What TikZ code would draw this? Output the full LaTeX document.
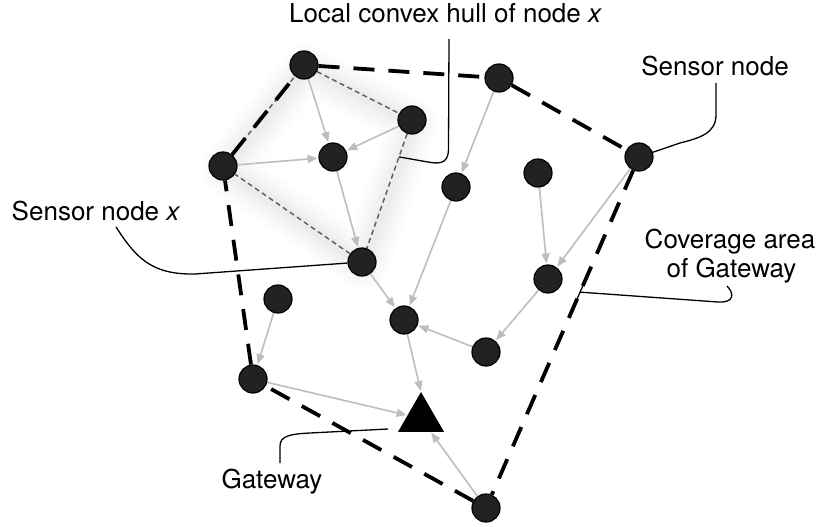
\documentclass[tikz,border=0pt]{standalone}
\usepackage{fontspec}
\setmainfont{TeX Gyre Heros}
\usetikzlibrary{arrows.meta,shapes.geometric,calc}
\pgfdeclarelayer{background}
\pgfsetlayers{background,main}
\definecolor{nodefill}{HTML}{222222}
\definecolor{flowgray}{HTML}{BDBDBD}
\definecolor{hullgray}{HTML}{5A5A5A}
\tikzset{
  sensor/.style={circle, draw=black, line width=1.2pt, fill=nodefill,
    minimum size=28pt, inner sep=0pt},
  gateway/.style={regular polygon, regular polygon sides=3, fill=black,
    minimum size=53pt, inner sep=0pt, outer sep=0pt},
  flow/.style={draw=flowgray, line width=1.6pt,
    -{Triangle[length=10pt,width=8pt]}, shorten >=1pt},
  coverage/.style={draw=black, line width=3.8pt, dash pattern=on 21pt off 14pt},
  localhull/.style={draw=hullgray, line width=1.4pt, dash pattern=on 5pt off 3.5pt},
  callout/.style={draw=black, line width=1.3pt},
  label/.style={anchor=base, inner sep=0pt, font=\fontsize{26}{31}\selectfont},
}
\begin{document}
\begin{tikzpicture}[x=1pt, y=-1pt]
\useasboundingbox (0,0) rectangle (822,527);

% sensor nodes
\node[sensor] (A) at (304,65) {};
\node[sensor] (B) at (499,78) {};
\node[sensor] (C) at (412,120) {};
\node[sensor] (D) at (333,157) {};
\node[sensor] (E) at (223,166) {};
\node[sensor] (F) at (639,157) {};
\node[sensor] (G) at (456,187) {};
\node[sensor] (H) at (538,173) {};
\node[sensor] (X) at (362,262) {};
\node[sensor] (I) at (548,279) {};
\node[sensor] (J) at (278,299) {};
\node[sensor] (K) at (404,320) {};
\node[sensor] (L) at (486,352) {};
\node[sensor] (M) at (253,379) {};
\node[sensor] (N) at (486,508) {};

% gateway
\node[gateway] (T) at (421,418.5) {};

% labels
\node[label] (lch) at (445.5,23) {Local convex hull of node \textit{x}};
\node[label] (sn) at (715,75) {Sensor node};
\node[label] (snx) at (96,220) {Sensor node \textit{x}};
\node[label] (cov1) at (730,248) {Coverage area};
\node[label] (cov2) at (731.5,277) {of Gateway};
\node[label] (gw) at (272,488) {Gateway};

\begin{pgfonlayer}{background}
  % soft glow along the local hull
  \foreach \w/\o in {48/0.010, 38/0.012, 28/0.014, 18/0.016, 10/0.018}{
    \draw[line width=\w pt, line join=round, black, opacity=\o]
      ([shift={(2,3)}]A.center) -- ([shift={(2,3)}]C.center)
      -- ([shift={(2,3)}]X.center) -- ([shift={(2,3)}]E.center) -- cycle;
  }
  % local convex hull of node x
  \draw[localhull] (A) -- (C);
  \draw[localhull] (C) -- (X);
  \draw[localhull] (X) -- (E);
  \draw[localhull] (E) -- (A);

  % coverage area of the gateway
  \draw[coverage] (A) -- (B);
  \draw[coverage] (B) -- (F);
  \draw[coverage] (F) -- (N);
  \draw[coverage] (N) -- (M);
  \draw[coverage] (M) -- (E);
  \draw[coverage] (E) -- (A);

  % routing towards the gateway
  \draw[flow] (A) -- (D);
  \draw[flow] (C) -- (D);
  \draw[flow] (E) -- (D);
  \draw[flow] (D) -- (X);
  \draw[flow] (X) -- (K);
  \draw[flow] (B) -- (G);
  \draw[flow] (G) -- (K);
  \draw[flow] (H) -- (I);
  \draw[flow] (F) -- (I);
  \draw[flow] (I) -- (L);
  \draw[flow] (L) -- (K);
  \draw[flow] (K) -- (T.corner 1);
  \draw[flow] (J) -- (M);
  \draw[flow] (M) -- (T);
  \draw[flow] (N) -- (T);
\end{pgfonlayer}

% callouts
\coordinate (lchA) at (449,39);
\coordinate (lchB) at ($(C)!0.26!(X)$);
\draw[callout] (lchA) -- (448.5,150) .. controls (448,164) and (439,164) .. (428,162) -- (lchB);

\coordinate (snA) at (716,83);
\draw[callout] (snA) -- (716,115) .. controls (716,133) and (700,138) .. (680,143) -- (F);

\coordinate (snxA) at (116,227);
\draw[callout] (snxA) .. controls (135,256) and (150,275) .. (195,274) -- (X);

\coordinate (covA) at (727,286);
\coordinate (covB) at ($(F)!0.385!(N)$);
\draw[callout] (covA) .. controls (734,293) and (735,303) .. (718,302) -- (covB);
\draw[line width=1.3pt] ($(covB)!9pt!(F)$) -- ($(covB)!9pt!(N)$);

\coordinate (gwA) at (280,463);
\coordinate (gwB) at (388,429);
\draw[callout] (gwA) -- (280,446) .. controls (280,436) and (290,434) .. (310,433) -- (gwB);
\end{tikzpicture}
\end{document}
